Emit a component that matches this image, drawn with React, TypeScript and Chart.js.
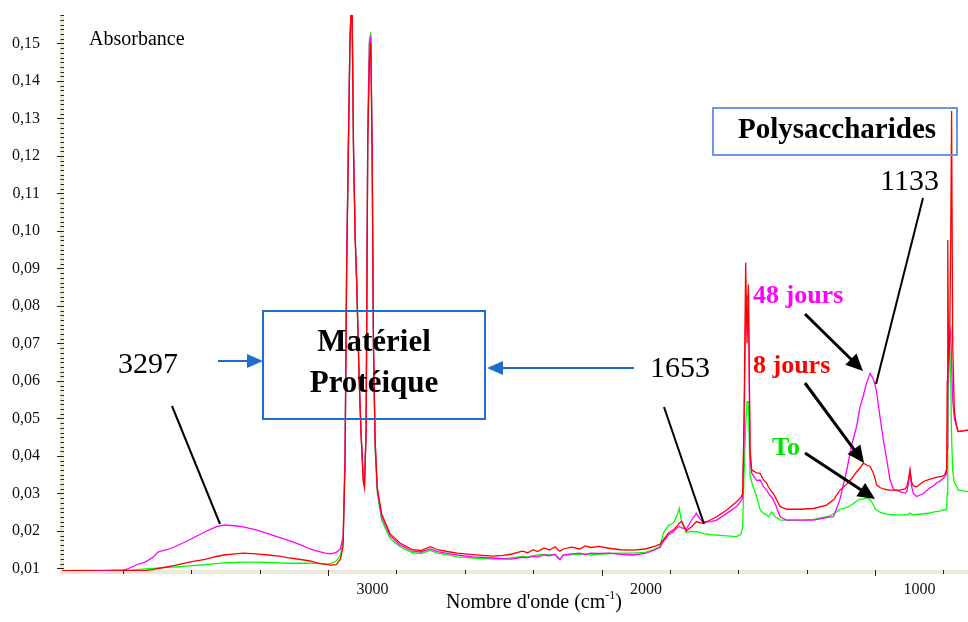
import React, { useEffect, useRef } from 'react';
import { Chart, registerables } from 'chart.js';

Chart.register(...registerables);

// Wavenumber grid (cm-1), descending
const wavenumbers = [
  3973, 3900, 3820, 3750, 3735, 3700, 3669, 3640, 3622, 3590, 3560, 3508, 3450, 3410, 3380, 3340,
  3311, 3263, 3220, 3179, 3150, 3100, 3066, 3040, 3010, 2990, 2970, 2955, 2945, 2938, 2932, 2926,
  2920, 2913, 2907, 2901, 2895, 2886, 2879, 2871, 2867, 2861, 2855, 2849, 2844, 2839, 2834, 2828,
  2820, 2804, 2773, 2737, 2691, 2660, 2627, 2600, 2554, 2528, 2470, 2397, 2360, 2331, 2290, 2270,
  2250, 2234, 2210, 2190, 2170, 2160, 2152, 2140, 2110, 2080, 2060, 2038, 2010, 1973, 1930, 1885,
  1840, 1810, 1786, 1774, 1755, 1737, 1722, 1716, 1707, 1690, 1670, 1653, 1640, 1628, 1600, 1579,
  1542, 1506, 1490, 1484, 1479, 1473, 1468, 1463, 1457, 1451, 1433, 1420, 1408, 1396, 1390, 1378,
  1372, 1366, 1347, 1323, 1274, 1225, 1177, 1152, 1128, 1104, 1085, 1067, 1055, 1043, 1031, 1018,
  1006, 1000, 994, 982, 969, 957, 945, 933, 909, 890, 884, 878, 872, 866, 860, 848,
  823, 799, 787, 775, 763, 750, 744, 738, 736, 734, 731, 727, 723, 720, 716, 710,
  702, 696, 680, 660,
];

// "8 jours" (red)
const abs8Jours = [
  0.0094, 0.0094, 0.0093, 0.0094, 0.0094, 0.0094, 0.0095, 0.0097, 0.0100, 0.0104, 0.0108, 0.0117, 0.0124, 0.0132, 0.0136, 0.0139,
  0.0141, 0.0139, 0.0136, 0.0133, 0.0129, 0.0124, 0.0120, 0.0115, 0.0111, 0.0109, 0.0110, 0.0125, 0.0160, 0.0380, 0.0900, 0.1210,
  0.1500, 0.1650, 0.1210, 0.0980, 0.0850, 0.0595, 0.0453, 0.0330, 0.0315, 0.0464, 0.1230, 0.1450, 0.1500, 0.1210, 0.0699, 0.0442,
  0.0315, 0.0245, 0.0192, 0.0168, 0.0150, 0.0148, 0.0158, 0.0150, 0.0144, 0.0141, 0.0137, 0.0133, 0.0135, 0.0138, 0.0146, 0.0142,
  0.0150, 0.0145, 0.0155, 0.0149, 0.0158, 0.0150, 0.0146, 0.0152, 0.0157, 0.0152, 0.0160, 0.0156, 0.0159, 0.0154, 0.0150, 0.0149,
  0.0152, 0.0158, 0.0165, 0.0176, 0.0195, 0.0203, 0.0215, 0.0221, 0.0226, 0.0200, 0.0212, 0.0225, 0.0222, 0.0221, 0.0230, 0.0238,
  0.0256, 0.0278, 0.0290, 0.0300, 0.0500, 0.0915, 0.0700, 0.0857, 0.0420, 0.0363, 0.0355, 0.0354, 0.0336, 0.0327, 0.0318, 0.0305,
  0.0300, 0.0292, 0.0265, 0.0258, 0.0258, 0.0260, 0.0269, 0.0283, 0.0309, 0.0325, 0.0340, 0.0358, 0.0368, 0.0381, 0.0376, 0.0372,
  0.0354, 0.0340, 0.0323, 0.0316, 0.0312, 0.0310, 0.0309, 0.0309, 0.0309, 0.0312, 0.0318, 0.0335, 0.0363, 0.0330, 0.0320, 0.0318,
  0.0332, 0.0338, 0.0341, 0.0343, 0.0345, 0.0347, 0.0352, 0.0365, 0.0600, 0.0976, 0.0650, 0.0700, 0.1000, 0.1320, 0.0700, 0.0520,
  0.0480, 0.0465, 0.0467, 0.0469,
];

// "48 jours" (magenta)
const abs48Jours = [
  0.0094, 0.0095, 0.0095, 0.0096, 0.0098, 0.0110, 0.0117, 0.0130, 0.0144, 0.0150, 0.0158, 0.0176, 0.0198, 0.0211, 0.0216, 0.0214,
  0.0211, 0.0203, 0.0193, 0.0183, 0.0176, 0.0163, 0.0152, 0.0146, 0.0141, 0.0139, 0.0143, 0.0152, 0.0185, 0.0400, 0.0920, 0.1220,
  0.1510, 0.1650, 0.1230, 0.0990, 0.0860, 0.0600, 0.0455, 0.0335, 0.0322, 0.0470, 0.1250, 0.1500, 0.1520, 0.1230, 0.0690, 0.0435,
  0.0310, 0.0238, 0.0187, 0.0163, 0.0146, 0.0144, 0.0152, 0.0145, 0.0139, 0.0136, 0.0131, 0.0128, 0.0126, 0.0125, 0.0130, 0.0129,
  0.0132, 0.0131, 0.0136, 0.0134, 0.0138, 0.0130, 0.0124, 0.0136, 0.0139, 0.0141, 0.0137, 0.0141, 0.0140, 0.0141, 0.0138, 0.0136,
  0.0140, 0.0148, 0.0156, 0.0172, 0.0190, 0.0198, 0.0210, 0.0212, 0.0208, 0.0205, 0.0230, 0.0247, 0.0232, 0.0224, 0.0225, 0.0229,
  0.0247, 0.0265, 0.0280, 0.0290, 0.0450, 0.0800, 0.0820, 0.0830, 0.0400, 0.0354, 0.0335, 0.0336, 0.0318, 0.0309, 0.0301, 0.0290,
  0.0283, 0.0274, 0.0238, 0.0229, 0.0229, 0.0229, 0.0236, 0.0238, 0.0285, 0.0360, 0.0430, 0.0480, 0.0530, 0.0560, 0.0595, 0.0620,
  0.0605, 0.0590, 0.0570, 0.0505, 0.0440, 0.0390, 0.0336, 0.0312, 0.0305, 0.0301, 0.0305, 0.0325, 0.0360, 0.0318, 0.0300, 0.0292,
  0.0300, 0.0315, 0.0320, 0.0328, 0.0333, 0.0340, 0.0345, 0.0354, 0.0420, 0.0550, 0.0680, 0.0720, 0.0735, 0.0650, 0.0550, 0.0500,
  0.0480, 0.0465, 0.0467, 0.0469,
];

// "To" (green)
const absTo = [
  0.0094, 0.0094, 0.0094, 0.0095, 0.0095, 0.0097, 0.0099, 0.0100, 0.0101, 0.0103, 0.0104, 0.0107, 0.0110, 0.0113, 0.0115, 0.0116,
  0.0117, 0.0117, 0.0116, 0.0115, 0.0114, 0.0114, 0.0114, 0.0113, 0.0112, 0.0113, 0.0120, 0.0135, 0.0175, 0.0390, 0.0910, 0.1215,
  0.1505, 0.1650, 0.1220, 0.0985, 0.0855, 0.0590, 0.0450, 0.0335, 0.0325, 0.0470, 0.1260, 0.1510, 0.1530, 0.1240, 0.0680, 0.0420,
  0.0300, 0.0228, 0.0180, 0.0158, 0.0142, 0.0140, 0.0148, 0.0141, 0.0135, 0.0131, 0.0128, 0.0125, 0.0126, 0.0128, 0.0132, 0.0131,
  0.0134, 0.0136, 0.0137, 0.0136, 0.0137, 0.0128, 0.0123, 0.0136, 0.0137, 0.0138, 0.0139, 0.0136, 0.0138, 0.0140, 0.0141, 0.0141,
  0.0143, 0.0150, 0.0160, 0.0195, 0.0215, 0.0221, 0.0245, 0.0260, 0.0222, 0.0196, 0.0199, 0.0198, 0.0196, 0.0193, 0.0190, 0.0189,
  0.0187, 0.0185, 0.0192, 0.0210, 0.0350, 0.0480, 0.0545, 0.0545, 0.0350, 0.0330, 0.0292, 0.0256, 0.0247, 0.0243, 0.0238, 0.0251,
  0.0245, 0.0238, 0.0229, 0.0229, 0.0229, 0.0231, 0.0238, 0.0245, 0.0258, 0.0262, 0.0270, 0.0280, 0.0285, 0.0285, 0.0288, 0.0283,
  0.0270, 0.0260, 0.0255, 0.0250, 0.0247, 0.0245, 0.0244, 0.0243, 0.0243, 0.0243, 0.0243, 0.0245, 0.0248, 0.0244, 0.0243, 0.0244,
  0.0246, 0.0248, 0.0250, 0.0252, 0.0253, 0.0256, 0.0256, 0.0260, 0.0300, 0.0450, 0.0600, 0.0698, 0.0600, 0.0450, 0.0360, 0.0330,
  0.0320, 0.0309, 0.0307, 0.0305,
];

const xMajorTicks = [3000, 2000, 1000];
const xMinorTicks = [3750, 3500, 3250, 2750, 2500, 2250, 1750, 1500, 1250, 750];
const yMajorTicks = [0.01, 0.02, 0.03, 0.04, 0.05, 0.06, 0.07, 0.08, 0.09, 0.10, 0.11, 0.12, 0.13, 0.14, 0.15];

const SERIF = "'Liberation Serif', 'Times New Roman', serif";
const BAND = '#ECE9D8';

function drawArrow(ctx: CanvasRenderingContext2D, x1: number, y1: number, x2: number, y2: number,
  color: string, lw: number, headLen: number, headHalf: number) {
  const ang = Math.atan2(y2 - y1, x2 - x1);
  const c = Math.cos(ang), s = Math.sin(ang);
  const bx = x2 - headLen * c, by = y2 - headLen * s;
  ctx.save();
  ctx.strokeStyle = color;
  ctx.fillStyle = color;
  ctx.lineWidth = lw;
  ctx.beginPath();
  ctx.moveTo(x1, y1);
  ctx.lineTo(bx + c, by + s);
  ctx.stroke();
  ctx.beginPath();
  ctx.moveTo(x2, y2);
  ctx.lineTo(bx - headHalf * s, by + headHalf * c);
  ctx.lineTo(bx + headHalf * s, by - headHalf * c);
  ctx.closePath();
  ctx.fill();
  ctx.restore();
}

function drawLine(ctx: CanvasRenderingContext2D, x1: number, y1: number, x2: number, y2: number, lw: number) {
  ctx.save();
  ctx.strokeStyle = '#000';
  ctx.lineWidth = lw;
  ctx.beginPath();
  ctx.moveTo(x1, y1);
  ctx.lineTo(x2, y2);
  ctx.stroke();
  ctx.restore();
}

function text(ctx: CanvasRenderingContext2D, t: string, x: number, y: number, font: string, color: string, align: CanvasTextAlign = 'left') {
  ctx.save();
  ctx.font = font;
  ctx.fillStyle = color;
  ctx.textAlign = align;
  ctx.textBaseline = 'alphabetic';
  ctx.fillText(t, x, y);
  ctx.restore();
}

const decorPlugin = {
  id: 'decor',
  beforeDatasetsDraw(chart: any) {
    const ctx: CanvasRenderingContext2D = chart.ctx;
    const xs = chart.scales.x;
    const ys = chart.scales.y;
    const area = chart.chartArea;
    ctx.save();
    ctx.fillStyle = BAND;
    ctx.fillRect(area.left - 2, area.top, 4, area.bottom - area.top + 3);
    ctx.fillRect(area.left - 2, area.bottom - 1, area.right - area.left + 2, 4);
    ctx.strokeStyle = '#222';
    ctx.lineWidth = 1;
    // y ticks
    const yMin = ys.min, yMax = ys.max;
    for (let k = 0; ; k++) {
      const v = 0.00875 + k * 0.00125;
      if (v > yMax) break;
      if (v < yMin) continue;
      const py = Math.round(ys.getPixelForValue(v)) + 0.5;
      const major = Math.abs(v * 100 - Math.round(v * 100)) < 1e-6;
      ctx.beginPath();
      ctx.moveTo(major ? area.left - 5 : area.left - 1.5, py);
      ctx.lineTo(area.left + 2, py);
      ctx.stroke();
    }
    // x ticks
    const drawX = (v: number, len: number) => {
      const px = Math.round(xs.getPixelForValue(v)) + 0.5;
      ctx.beginPath();
      ctx.moveTo(px, area.bottom - 1);
      ctx.lineTo(px, area.bottom - 1 + len);
      ctx.stroke();
    };
    xMinorTicks.forEach((v) => drawX(v, 4));
    xMajorTicks.forEach((v) => drawX(v, 6));
    ctx.restore();
  },
  afterDatasetsDraw(chart: any) {
    const ctx: CanvasRenderingContext2D = chart.ctx;
    const blue = 'rgb(28,110,205)';
    text(ctx, 'Absorbance', 89, 45, `20px ${SERIF}`, '#000');

    // Matériel Protéique
    ctx.save();
    ctx.strokeStyle = blue;
    ctx.lineWidth = 2;
    ctx.strokeRect(263, 311, 222, 108);
    ctx.strokeStyle = 'rgb(110,150,232)';
    ctx.strokeRect(713, 108, 244, 47);
    ctx.restore();
    text(ctx, 'Matériel', 374, 351, `bold 31px ${SERIF}`, '#000', 'center');
    text(ctx, 'Protéique', 374, 392, `bold 31px ${SERIF}`, '#000', 'center');
    drawArrow(ctx, 218, 361, 263, 361, blue, 2, 16, 7);
    drawArrow(ctx, 634, 368, 487, 368, blue, 2, 16, 7);

    text(ctx, '3297', 118, 373, `30px ${SERIF}`, '#000');
    drawLine(ctx, 172, 406, 220, 524, 2);
    text(ctx, '1653', 650, 377, `30px ${SERIF}`, '#000');
    drawLine(ctx, 664, 407, 704, 524, 2);

    text(ctx, 'Polysaccharides', 837, 138, `bold 29px ${SERIF}`, '#000', 'center');
    text(ctx, '1133', 880, 190, `30px ${SERIF}`, '#000');
    drawLine(ctx, 923, 198, 876, 384, 2);

    text(ctx, '48 jours', 753, 303, `bold 26px ${SERIF}`, '#ff00ff');
    text(ctx, '8 jours', 753, 373, `bold 26px ${SERIF}`, '#ff0000');
    text(ctx, 'To', 772, 455, `bold 26px ${SERIF}`, '#00e600');
    drawArrow(ctx, 805, 314, 863, 371, '#000', 3, 17, 8);
    drawArrow(ctx, 805, 383, 864, 463, '#000', 3, 17, 8);
    drawArrow(ctx, 805, 453, 875, 499, '#000', 3, 17, 8);

    // x-axis title with superscript
    ctx.save();
    ctx.fillStyle = '#000';
    ctx.textBaseline = 'alphabetic';
    const main = "Nombre d'onde (cm";
    const sup = '-1';
    const close = ')';
    ctx.font = `20px ${SERIF}`;
    const w1 = ctx.measureText(main).width;
    const w3 = ctx.measureText(close).width;
    ctx.font = `12px ${SERIF}`;
    const w2 = ctx.measureText(sup).width;
    const total = w1 + w2 + w3;
    let x0 = 534 - total / 2;
    ctx.font = `20px ${SERIF}`;
    ctx.fillText(main, x0, 608);
    ctx.font = `12px ${SERIF}`;
    ctx.fillText(sup, x0 + w1, 599);
    ctx.font = `20px ${SERIF}`;
    ctx.fillText(close, x0 + w1 + w2, 608);
    ctx.restore();
  },
};

export default function App() {
  const ref = useRef<HTMLCanvasElement | null>(null);
  useEffect(() => {
    document.body.style.margin = '0';
    const canvas = ref.current;
    if (!canvas) return;
    const mk = (vals: number[]) => wavenumbers.map((x, i) => ({ x, y: vals[i] }));
    const chart = new Chart(canvas, {
      type: 'line',
      data: {
        datasets: [
          { label: '8 jours', data: mk(abs8Jours), borderColor: '#ff0000', borderWidth: 1.3, pointRadius: 0, tension: 0, fill: false },
          { label: '48 jours', data: mk(abs48Jours), borderColor: '#ff00ff', borderWidth: 1.3, pointRadius: 0, tension: 0, fill: false },
          { label: 'To', data: mk(absTo), borderColor: '#00ff00', borderWidth: 1.3, pointRadius: 0, tension: 0, fill: false },
        ],
      },
      options: {
        animation: false,
        responsive: false,
        maintainAspectRatio: false,
        events: [],
        layout: { padding: { top: 15, right: 0, left: 0, bottom: 0 } },
        plugins: { legend: { display: false }, tooltip: { enabled: false }, title: { display: false } },
        scales: {
          x: {
            type: 'linear',
            reverse: true,
            min: 660,
            max: 3973,
            afterBuildTicks: (s: any) => { s.ticks = xMajorTicks.map((v) => ({ value: v })); },
            afterFit: (s: any) => { s.height = 51; s.paddingLeft = 0; s.paddingRight = 0; },
            ticks: {
              labelOffset: 44.5,
              padding: 9,
              autoSkip: false,
              maxRotation: 0,
              color: '#111',
              font: { family: SERIF, size: 16 },
              callback: (v: any) => String(v),
            },
            grid: { display: false, drawTicks: false },
            border: { display: false },
          },
          y: {
            type: 'linear',
            min: 0.00933,
            max: 0.1576,
            afterBuildTicks: (s: any) => { s.ticks = yMajorTicks.map((v) => ({ value: v })); },
            afterFit: (s: any) => { s.width = 62; s.paddingTop = 0; s.paddingBottom = 0; },
            ticks: {
              padding: 22,
              autoSkip: false,
              color: '#111',
              font: { family: SERIF, size: 16 },
              callback: (v: any) => Number(v).toFixed(2).replace('.', ','),
            },
            grid: { display: false, drawTicks: false },
            border: { display: false },
          },
        },
      },
      plugins: [decorPlugin],
    });
    return () => chart.destroy();
  }, []);
  return (
    <canvas ref={ref} width={968} height={622} style={{ display: 'block', width: 968, height: 622 }} />
  );
}
